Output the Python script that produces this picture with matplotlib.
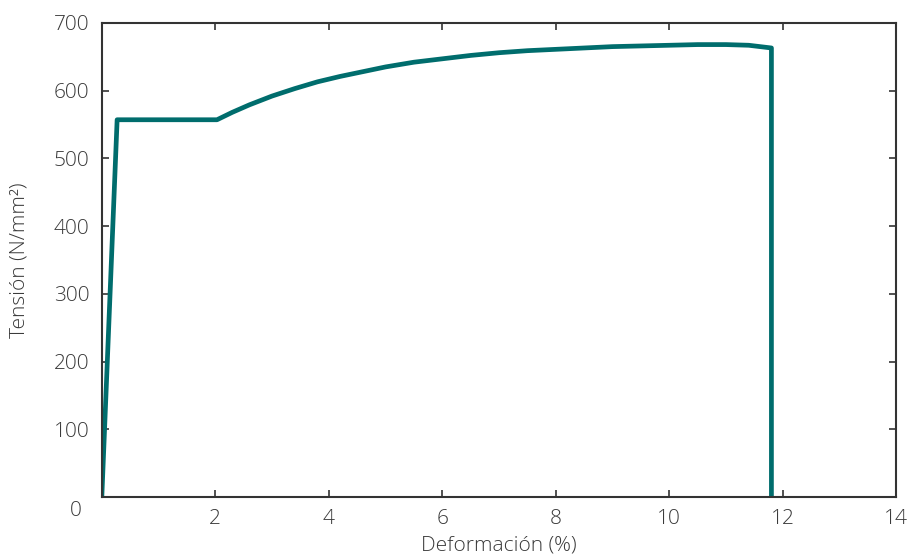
import matplotlib
matplotlib.use("Agg")
import matplotlib.pyplot as plt

# strain (%) and stress (N/mm2)
deformacion = [0.0, 0.27, 2.03, 2.3, 2.6, 3.0, 3.4, 3.8, 4.2, 4.6, 5.0, 5.5, 6.0,
               6.5, 7.0, 7.5, 8.0, 8.5, 9.0, 9.5, 10.0, 10.5, 11.0, 11.4, 11.8, 11.8]
tension = [0, 557, 557, 568, 579, 592, 603, 613, 621, 628, 635, 642, 647,
           652, 656, 659, 661, 663, 665, 666, 667, 668, 668, 667, 663, 0]

xticks = [2, 4, 6, 8, 10, 12, 14]
yticks = [100, 200, 300, 400, 500, 600, 700]

plt.rcParams['font.family'] = ['Open Sans', 'DejaVu Sans']
text_color = '#3a3a3a'

fig = plt.figure(figsize=(9.09, 5.59), dpi=100)
ax = fig.add_axes([0.112, 0.111, 0.874, 0.848])

ax.plot(deformacion, tension, color='#006d6d', linewidth=3.4, solid_joinstyle='round')

ax.set_xlim(0, 14)
ax.set_ylim(0, 700)
ax.set_xticks(xticks)
ax.set_yticks(yticks)
ax.tick_params(direction='in', length=5, width=1.2, colors='#333333',
               labelcolor=text_color, labelsize=15, pad=9,
               top=True, right=True)
for lab in ax.get_xticklabels() + ax.get_yticklabels():
    lab.set_fontweight('light')
for sp in ax.spines.values():
    sp.set_color('#333333')
    sp.set_linewidth(1.5)

# shared origin label
ax.text(-0.025, -0.03, '0', transform=ax.transAxes, ha='right', va='center',
        fontsize=15, color=text_color, fontweight='light')

ax.set_xlabel('Deformación (%)', fontsize=15, color=text_color,
              fontweight='light', labelpad=4)
ax.set_ylabel('Tensión (N/mm²)', fontsize=15, color=text_color,
              fontweight='light', labelpad=17)

fig.savefig('out.png', dpi=100)
